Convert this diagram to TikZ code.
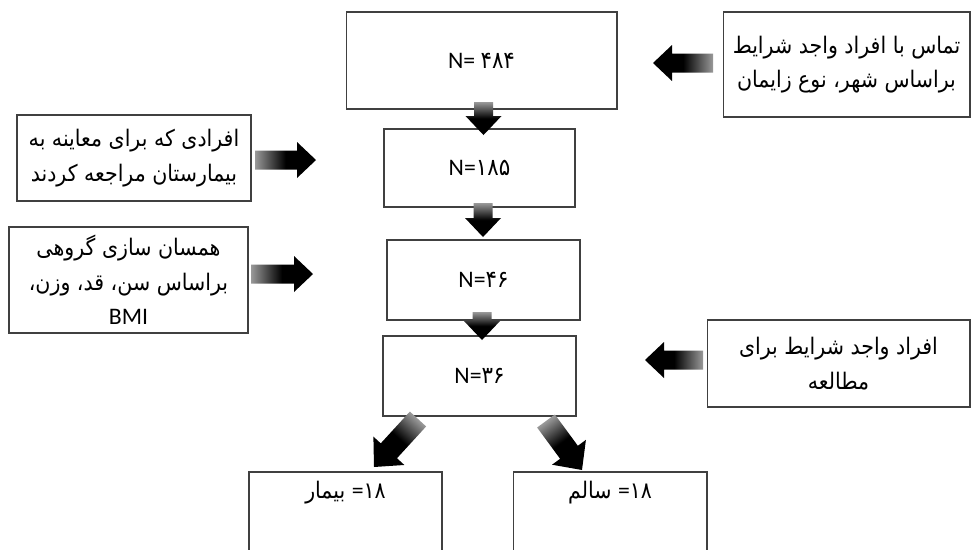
\documentclass[tikz,border=0pt]{standalone}
\usepackage{fontspec}
\setmainfont{Carlito}
\newfontfamily\arabicfont[Script=Arabic, FakeStretch=0.9]{DejaVu Sans}
\TeXXeTstate=1
\usetikzlibrary{calc}

\newcommand\barshaft{0.19cm}
\newcommand\barhead{0.36cm}
\newcommand\barlen{0.38cm}
\newcommand\blockarrow[2]{%
  \path let \p1=($(#2)-(#1)$), \n1={atan2(\y1,\x1)+90} in \pgfextra{\xdef\barang{\n1}};
  \coordinate (barc) at ($(#2)!\barlen!(#1)$);
  \shade[barrow, shading angle=\barang]
    ($(#1)!\barshaft!90:(#2)$) -- ($(barc)!\barshaft!90:(#2)$) -- ($(barc)!\barhead!90:(#2)$)
    -- (#2) -- ($(barc)!\barhead!-90:(#2)$) -- ($(barc)!\barshaft!-90:(#2)$)
    -- ($(#1)!\barshaft!-90:(#2)$) -- cycle;
}

\tikzset{
  box/.style={draw=black!75, line width=0.6pt, fill=white, inner sep=0pt, align=center},
  numtext/.style={font=\fontsize{13.5}{16}\selectfont},
  fatext/.style={font=\arabicfont\fontsize{13}{19.5}\selectfont},
  barrow/.style={top color=black!40, bottom color=black, middle color=black}
}

\begin{document}
\begin{tikzpicture}[x=0.02cm, y=-0.02cm]
\useasboundingbox (0,0) rectangle (976,549);
\fill[white] (0,0) rectangle (976,549);
\clip (0,0) rectangle (976,549);

% main column
\node[box, numtext, minimum width=5.42cm, minimum height=1.94cm] (n1) at (481.5,60.5) {N= {\arabicfont ۴۸۴}};
\node[box, numtext, minimum width=3.82cm, minimum height=1.56cm] (n2) at (479.5,168) {N={\arabicfont ۱۸۵}};
\node[box, numtext, minimum width=3.86cm, minimum height=1.60cm] (n3) at (483.5,280) {N={\arabicfont ۴۶}};
\node[box, numtext, minimum width=3.86cm, minimum height=1.60cm] (n4) at (479.5,376) {N={\arabicfont ۳۶}};

% side boxes
\node[box, fatext, minimum width=4.94cm, minimum height=2.10cm] (ctop) at (846.5,64.5)
  {\beginR تماس با افراد واجد شرایط\endR\\\beginR براساس شهر، نوع زایمان\endR};
\node[box, fatext, minimum width=4.68cm, minimum height=1.72cm] (cl1) at (134,158)
  {\beginR افرادی که برای معاینه به\endR\\\beginR بیمارستان مراجعه کردند\endR};
\node[box, fatext, minimum width=4.78cm, minimum height=2.12cm] (cl2) at (128.5,280)
  {\beginR همسان سازی گروهی\endR\\\beginR براساس سن، قد، وزن،\endR\\{\rmfamily\fontsize{13.5}{19.5}\selectfont BMI}};
\node[box, fatext, minimum width=5.26cm, minimum height=1.74cm] (cr2) at (838.5,363.5)
  {\beginR افراد واجد شرایط برای\endR\\\beginR مطالعه\endR};

% bottom boxes (cut by the page edge)
\node[box, minimum width=3.86cm, minimum height=2.0cm] (b1) at (345.5,522) {};
\node[box, minimum width=3.88cm, minimum height=2.0cm] (b2) at (610,522) {};
\node[fatext] (b1t) at (345.5,493) {بیمار\ {\rmfamily\fontsize{13.5}{16}\selectfont =}۱۸};
\node[fatext] (b2t) at (610,493) {سالم\ {\rmfamily\fontsize{13.5}{16}\selectfont =}۱۸};

% arrows
\coordinate (a1s) at (713,63);  \coordinate (a1e) at (653,63);
\coordinate (a2s) at (255,160); \coordinate (a2e) at (316,160);
\coordinate (a3s) at (251,274); \coordinate (a3e) at (313,274);
\coordinate (a4s) at (703,360); \coordinate (a4e) at (645,360);
\coordinate (d1s) at (483.5,102); \coordinate (d1e) at (483.5,135);
\coordinate (d2s) at (483,203); \coordinate (d2e) at (483,237);
\coordinate (d3s) at (482,312); \coordinate (d3e) at (482,340);
\coordinate (ls) at (418,419); \coordinate (le) at (374,467);
\coordinate (rs) at (546,421); \coordinate (re) at (582,470);

\blockarrow{a1s}{a1e}
\blockarrow{a2s}{a2e}
\blockarrow{a3s}{a3e}
\blockarrow{a4s}{a4e}
\blockarrow{d1s}{d1e}
\blockarrow{d2s}{d2e}
\blockarrow{d3s}{d3e}
\renewcommand\barshaft{0.22cm}
\renewcommand\barhead{0.42cm}
\renewcommand\barlen{0.44cm}
\blockarrow{ls}{le}
\blockarrow{rs}{re}
\end{tikzpicture}
\end{document}
